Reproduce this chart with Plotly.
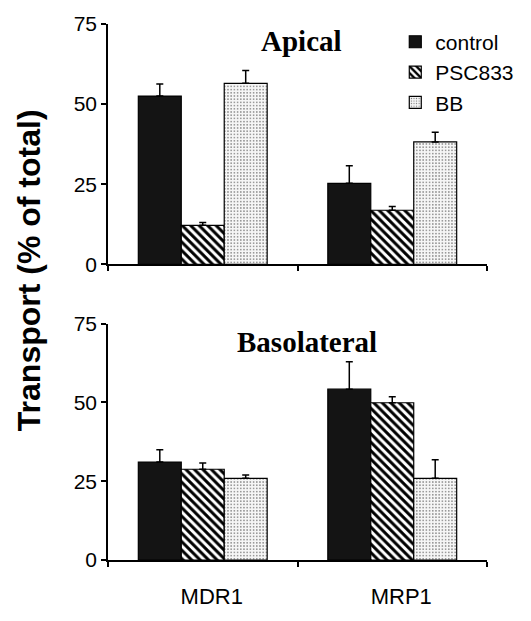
import plotly.graph_objects as go
from plotly.subplots import make_subplots

categories = ["MDR1", "MRP1"]
series_names = ["control", "PSC833", "BB"]

apical_values = {"control": [52.5, 25.3], "PSC833": [12.2, 16.9], "BB": [56.5, 38.2]}
apical_errors = {"control": [3.8, 5.5], "PSC833": [0.9, 1.2], "BB": [4.0, 3.0]}
baso_values = {"control": [31.1, 54.2], "PSC833": [28.8, 49.9], "BB": [25.9, 25.9]}
baso_errors = {"control": [3.9, 8.7], "PSC833": [2.0, 1.9], "BB": [1.1, 5.9]}

y_ticks = [0, 25, 50, 75]

W, H = 531, 621
L, R, T, B = 108, 43, 23, 46

styles = {
    "control": dict(color="#141414", pattern=dict(shape="")),
    "PSC833": dict(color="white", pattern=dict(shape="\\", fgcolor="black", bgcolor="white",
                                                  size=6, solidity=0.5, fillmode="replace")),
    "BB": dict(color="#f4f4f4", pattern=dict(shape=".", fgcolor="#777777", bgcolor="#f6f6f6",
                                              size=3.2, solidity=0.18, fillmode="replace")),
}

fig = make_subplots(rows=2, cols=1, vertical_spacing=0.11)

for row, (vals, errs) in enumerate([(apical_values, apical_errors), (baso_values, baso_errors)], start=1):
    for name in series_names:
        fig.add_trace(go.Bar(
            x=categories, y=vals[name], name=name,
            showlegend=(row == 1),
            marker=dict(color=styles[name]["color"], pattern=styles[name]["pattern"],
                        line=dict(color="black", width=1.2)),
            error_y=dict(type="data", array=errs[name], arrayminus=[0] * len(categories),
                         symmetric=False, color="black", thickness=1.5, width=3.5),
        ), row=row, col=1)

axis_common = dict(showline=True, linecolor="black", linewidth=1.5, mirror=False,
                   showgrid=False, zeroline=False)

fig.update_yaxes(range=[0, 75], tickvals=y_ticks, ticks="outside", ticklen=5, tickwidth=1.5,
                 tickcolor="black", tickfont=dict(family="Liberation Sans, Arial", size=21, color="black"),
                 **axis_common)
fig.update_xaxes(range=[-0.5, 1.5], tickson="boundaries", ticks="outside", ticklen=5, tickwidth=1.5,
                 tickcolor="black", tickfont=dict(family="Liberation Sans, Arial", size=22, color="black"),
                 **axis_common)
fig.update_xaxes(showticklabels=False, row=1, col=1)
fig.update_xaxes(ticklabelshift=9, ticklabelstandoff=16, row=2, col=1)

fig.update_layout(
    width=W, height=H,
    margin=dict(l=L, r=R, t=T, b=B),
    paper_bgcolor="white", plot_bgcolor="white",
    barmode="group", bargap=0.32, bargroupgap=0,
    yaxis=dict(domain=[0.5515, 1.0]),
    yaxis2=dict(domain=[0.0, 0.441]),
    showlegend=True,
    legend=dict(x=0.758, y=1.0045, xanchor="left", yanchor="top",
                font=dict(family="Liberation Sans, Arial", size=21, color="black"),
                bgcolor="rgba(0,0,0,0)", tracegroupgap=0, itemwidth=30),
    annotations=[
        dict(text="<b>Apical</b>", xref="paper", yref="paper", x=0.5105, y=0.9674,
             xanchor="center", yanchor="middle",
             showarrow=False, font=dict(family="Liberation Serif, Times New Roman", size=29, color="black")),
        dict(text="<b>Basolateral</b>", xref="paper", yref="paper", x=0.524, y=0.4058,
             xanchor="center", yanchor="middle",
             showarrow=False, font=dict(family="Liberation Serif, Times New Roman", size=29, color="black")),
        dict(text="<b>Transport (% of total)</b>", xref="paper", yref="paper", x=-0.208, y=0.541,
             xanchor="center", yanchor="middle",
             textangle=-90, showarrow=False,
             font=dict(family="Liberation Sans, Arial", size=32, color="black")),
    ],
)

fig.write_html("out.html", config={"displayModeBar": False},
               post_script="document.body.style.margin='0px';")
